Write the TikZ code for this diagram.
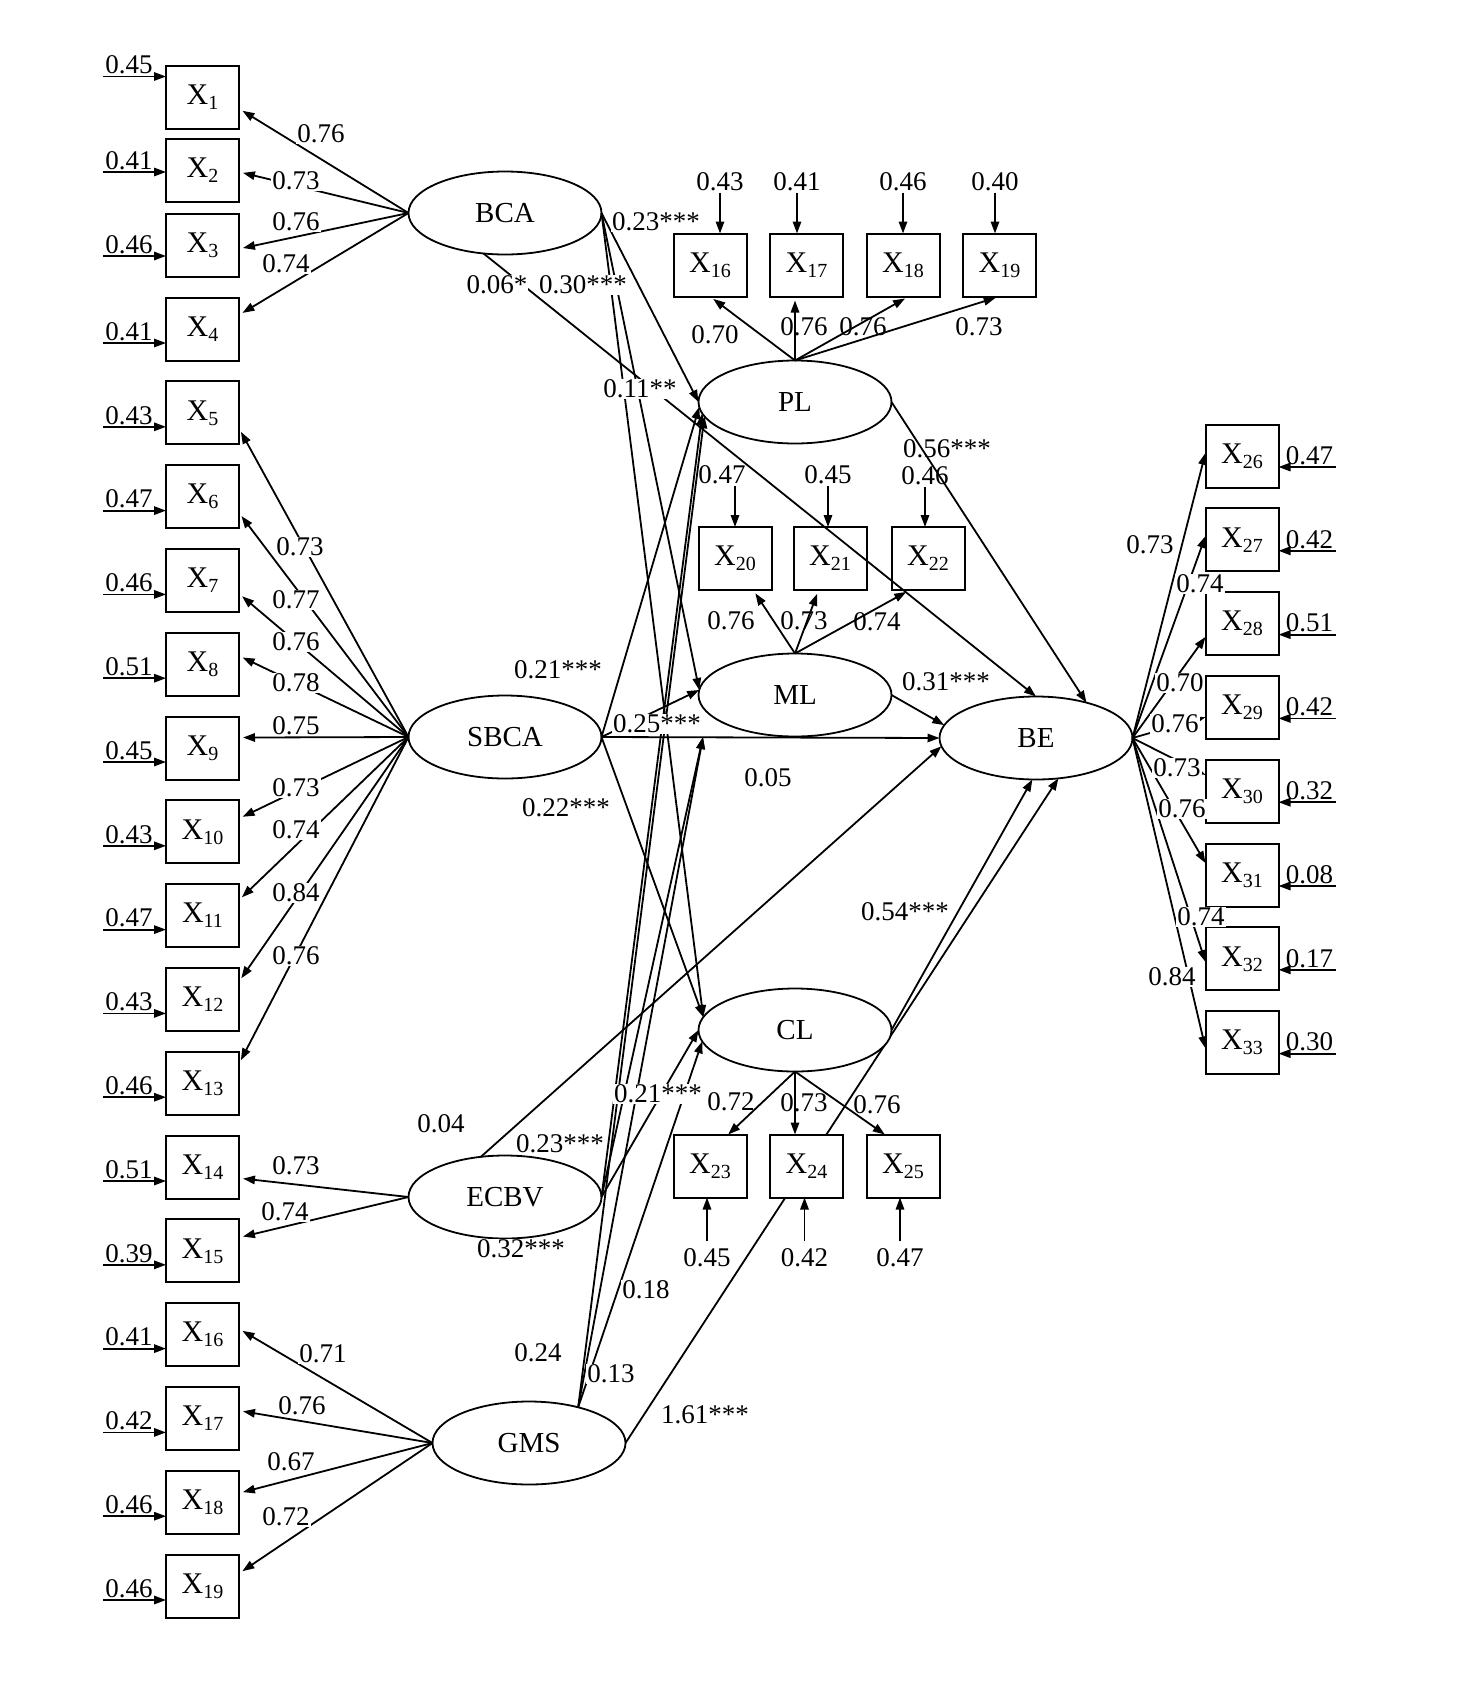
\documentclass[tikz,border=0pt]{standalone}
\usepackage{fontspec}
\setmainfont{Liberation Serif}
\usepackage{tikz}
\usetikzlibrary{positioning,arrows.meta,shapes.geometric,backgrounds}

\newcommand{\xs}[1]{X\raisebox{-2.5pt}{\fontsize{10}{10}\selectfont #1}}

\begin{document}
\begin{tikzpicture}[x=0.5pt, y=-0.5pt,
  obs/.style={draw, line width=1pt, fill=white, minimum width=36.5pt, minimum height=31.5pt, inner sep=0pt, outer sep=0pt, font=\fontsize{15}{15}\selectfont},
  lat/.style={draw, ellipse, line width=0.9pt, fill=white, minimum width=96.5pt, minimum height=41.5pt, inner sep=0pt, outer sep=0pt, font=\fontsize{14.5}{14.5}\selectfont},
  num/.style={inner sep=0.5pt, font=\fontsize{13.5}{14}\selectfont},
  lbl/.style={num, fill=white},
  res/.style={inner sep=1pt, font=\fontsize{13.5}{14}\selectfont},
  arr/.style={-{Triangle[length=6pt,width=4.2pt]}, line width=0.9pt},
  load/.style={arr, shorten >=2pt}
]
\useasboundingbox (0,0) rectangle (1474,1703);

% latent variables
\node[lat] (BCA) at (505,213) {BCA};
\node[lat, below=220.5pt of BCA] (SBCA) {SBCA};
\node[lat, below=188.5pt of SBCA] (ECBV) {ECBV};
\node[lat] (GMS) at (529,1443) {GMS};
\node[lat] (PL) at (795,402) {PL};
\node[lat, below=105pt of PL] (ML) {ML};
\node[lat, below=126pt of ML] (CL) {CL};
\node[lat] (BE) at (1036,738) {BE};
\coordinate (mlin) at (703,737);

% left indicators
\node[obs] (l1) at (202.5,97.5) {\xs{1}};
\node[obs, below=4.75pt of l1] (l2) {\xs{2}};
\node[obs, below=6pt of l2] (l3) {\xs{3}};
\node[obs, below=10.5pt of l3] (l4) {\xs{4}};
\node[obs, below=10.4pt of l4] (l5) {\xs{5}};
\node[obs, below=10.4pt of l5] (l6) {\xs{6}};
\node[obs, below=10.4pt of l6] (l7) {\xs{7}};
\node[obs, below=10.4pt of l7] (l8) {\xs{8}};
\node[obs, below=10.4pt of l8] (l9) {\xs{9}};
\node[obs, below=10.4pt of l9] (l10) {\xs{10}};
\node[obs, below=10.4pt of l10] (l11) {\xs{11}};
\node[obs, below=10.4pt of l11] (l12) {\xs{12}};
\node[obs, below=10.4pt of l12] (l13) {\xs{13}};
\node[obs, below=10.4pt of l13] (l14) {\xs{14}};
\node[obs, below=10.4pt of l14] (l15) {\xs{15}};
\node[obs, below=10.4pt of l15] (l16) {\xs{16}};
\node[obs, below=10.4pt of l16] (l17) {\xs{17}};
\node[obs, below=10.4pt of l17] (l18) {\xs{18}};
\node[obs, below=10.4pt of l18] (l19) {\xs{19}};

% mediator indicators
\node[obs] (p16) at (710,265) {\xs{16}};
\node[obs, right=11.75pt of p16] (p17) {\xs{17}};
\node[obs, right=11.75pt of p17] (p18) {\xs{18}};
\node[obs, right=11.75pt of p18] (p19) {\xs{19}};
\node[obs] (m20) at (735,558.5) {\xs{20}};
\node[obs, right=11pt of m20] (m21) {\xs{21}};
\node[obs, right=12.5pt of m21] (m22) {\xs{22}};
\node[obs] (c23) at (710,1166) {\xs{23}};
\node[obs, right=11.75pt of c23] (c24) {\xs{24}};
\node[obs, right=11.75pt of c24] (c25) {\xs{25}};

% BE indicators
\node[obs] (b26) at (1242,456) {\xs{26}};
\node[obs, below=10.4pt of b26] (b27) {\xs{27}};
\node[obs, below=10.4pt of b27] (b28) {\xs{28}};
\node[obs, below=10.4pt of b28] (b29) {\xs{29}};
\node[obs, below=10.4pt of b29] (b30) {\xs{30}};
\node[obs, below=10.4pt of b30] (b31) {\xs{31}};
\node[obs, below=10.4pt of b31] (b32) {\xs{32}};
\node[obs, below=10.4pt of b32] (b33) {\xs{33}};

% hidden behind X24
\begin{scope}[on background layer]
\draw[arr] (GMS.east) -- (BE.-61);
\end{scope}

% structural paths
\draw[arr] (BCA.east) -- (PL.west);
\draw[arr] (BCA.east) -- (ML.177);
\draw[arr] (BCA.east) -- (CL.172);
\draw[arr] (BCA.242) -- (BE.north);
\draw[arr] (SBCA.east) -- (PL.183);
\draw[arr] (SBCA.east) -- (ML.177);
\draw[arr] (SBCA.east) -- (BE.west);
\draw[arr] (SBCA.east) -- (CL.172);
\draw[arr] (ECBV.east) -- (PL.187);
\draw[arr] (ECBV.east) -- (mlin);
\draw[arr] (ECBV.east) -- (CL.west);
\draw[arr] (ECBV.121) -- (BE.185);
\draw[arr] (GMS.36) -- (PL.189);
\draw[arr] (GMS.36) -- (mlin);
\draw[arr] (GMS.36) -- (CL.187);
\draw[arr] (PL.east) -- (BE.35);
\draw[arr] (ML.east) -- (BE.172);
\draw[arr] (CL.east) -- (BE.-95);

% loadings
\draw[load] (BCA.west) -- (l1.-17);
\draw[load] (BCA.west) -- (l2.-3);
\draw[load] (BCA.west) -- (l3.-6);
\draw[load] (BCA.west) -- (l4.21);
\draw[load] (SBCA.west) -- (l5.-23);
\draw[load] (SBCA.west) -- (l6.-24);
\draw[load] (SBCA.west) -- (l7.-20);
\draw[load] (SBCA.west) -- (l8.13);
\draw[load] (SBCA.west) -- (l9.16);
\draw[load] (SBCA.west) -- (l10.20);
\draw[load] (SBCA.west) -- (l11.23);
\draw[load] (SBCA.west) -- (l12.26);
\draw[load] (SBCA.west) -- (l13.28);
\draw[load] (ECBV.west) -- (l14.-17);
\draw[load] (ECBV.west) -- (l15.20);
\draw[load] (GMS.west) -- (l16.9);
\draw[load] (GMS.west) -- (l17.12);
\draw[load] (GMS.west) -- (l18.14);
\draw[load] (GMS.west) -- (l19.19);
\draw[load] (PL.north) -- (p16.south);
\draw[load] (PL.north) -- (PL.north |- p17.south);
\draw[load] (PL.north) -- (p18.-80);
\draw[load] (PL.north) -- (p19.south);
\draw[load] (ML.north) -- (m20.-60);
\draw[load] (ML.north) -- (m21.-110);
\draw[load] (ML.north) -- (m22.-120);
\draw[arr] (CL.south) -- (c23.60);
\draw[arr] (CL.south) -- (CL.south |- c24.north);
\draw[arr] (CL.south) -- (c25.120);
\draw[arr] (BE.east) -- (b26.175);
\draw[arr] (BE.east) -- (b27.174);
\draw[arr] (BE.east) -- (b28.200);
\draw[arr] (BE.east) -- (b29.195);
\draw[arr] (BE.east) -- (b30.156);
\draw[arr] (BE.east) -- (b31.162);
\draw[arr] (BE.east) -- (b32.185);
\draw[arr] (BE.east) -- (b33.189);

% error terms, left
\node[res, anchor=south west] (e1) at ([shift={(-63,-21)}]l1.west) {0.45};
\node[res, anchor=south west] (e2) at ([shift={(-63,2)}]l2.west) {0.41};
\node[res, anchor=south west] (e3) at ([shift={(-63,11)}]l3.west) {0.46};
\node[res, anchor=south west] (e4) at ([shift={(-63,14)}]l4.west) {0.41};
\node[res, anchor=south west] (e5) at ([shift={(-63,14)}]l5.west) {0.43};
\node[res, anchor=south west] (e6) at ([shift={(-63,14)}]l6.west) {0.47};
\node[res, anchor=south west] (e7) at ([shift={(-63,14)}]l7.west) {0.46};
\node[res, anchor=south west] (e8) at ([shift={(-63,14)}]l8.west) {0.51};
\node[res, anchor=south west] (e9) at ([shift={(-63,14)}]l9.west) {0.45};
\node[res, anchor=south west] (e10) at ([shift={(-63,14)}]l10.west) {0.43};
\node[res, anchor=south west] (e11) at ([shift={(-63,14)}]l11.west) {0.47};
\node[res, anchor=south west] (e12) at ([shift={(-63,14)}]l12.west) {0.43};
\node[res, anchor=south west] (e13) at ([shift={(-63,14)}]l13.west) {0.46};
\node[res, anchor=south west] (e14) at ([shift={(-63,14)}]l14.west) {0.51};
\node[res, anchor=south west] (e15) at ([shift={(-63,14)}]l15.west) {0.39};
\node[res, anchor=south west] (e16) at ([shift={(-63,14)}]l16.west) {0.41};
\node[res, anchor=south west] (e17) at ([shift={(-63,14)}]l17.west) {0.42};
\node[res, anchor=south west] (e18) at ([shift={(-63,14)}]l18.west) {0.46};
\node[res, anchor=south west] (e19) at ([shift={(-63,14)}]l19.west) {0.46};
\draw[arr] (e1.south west) -- (e1.south west -| l1.west);
\draw[arr] (e2.south west) -- (e2.south west -| l2.west);
\draw[arr] (e3.south west) -- (e3.south west -| l3.west);
\draw[arr] (e4.south west) -- (e4.south west -| l4.west);
\draw[arr] (e5.south west) -- (e5.south west -| l5.west);
\draw[arr] (e6.south west) -- (e6.south west -| l6.west);
\draw[arr] (e7.south west) -- (e7.south west -| l7.west);
\draw[arr] (e8.south west) -- (e8.south west -| l8.west);
\draw[arr] (e9.south west) -- (e9.south west -| l9.west);
\draw[arr] (e10.south west) -- (e10.south west -| l10.west);
\draw[arr] (e11.south west) -- (e11.south west -| l11.west);
\draw[arr] (e12.south west) -- (e12.south west -| l12.west);
\draw[arr] (e13.south west) -- (e13.south west -| l13.west);
\draw[arr] (e14.south west) -- (e14.south west -| l14.west);
\draw[arr] (e15.south west) -- (e15.south west -| l15.west);
\draw[arr] (e16.south west) -- (e16.south west -| l16.west);
\draw[arr] (e17.south west) -- (e17.south west -| l17.west);
\draw[arr] (e18.south west) -- (e18.south west -| l18.west);
\draw[arr] (e19.south west) -- (e19.south west -| l19.west);

% error terms, mediators
\node[num] (ep16) at ([shift={(10,-51.5)}]p16.north) {0.43};
\node[num] (ep17) at ([shift={(-9.5,-51.5)}]p17.north) {0.41};
\node[num] (ep18) at ([shift={(0,-51.5)}]p18.north) {0.46};
\node[num] (ep19) at ([shift={(-4.5,-51.5)}]p19.north) {0.40};
\draw[arr] (ep16.south) -- (ep16.south |- p16.north);
\draw[arr] (ep17.south) -- (ep17.south |- p17.north);
\draw[arr] (ep18.south) -- (ep18.south |- p18.north);
\draw[arr] (ep19.south) -- (ep19.south |- p19.north);
\node[num] (em20) at ([shift={(-13,-52)}]m20.north) {0.47};
\node[num] (em21) at ([shift={(-2,-52)}]m21.north) {0.45};
\node[num] (em22) at ([shift={(-3,-51)}]m22.north) {0.46};
\draw[arr] (m20.north |- em20.south) -- (m20.north);
\draw[arr] (em21.south) -- (em21.south |- m21.north);
\draw[arr] (em22.south) -- (em22.south |- m22.north);
\node[num] (ec23) at ([shift={(-3,60.5)}]c23.south) {0.45};
\node[num] (ec24) at ([shift={(-2,60.5)}]c24.south) {0.42};
\node[num] (ec25) at ([shift={(-3,60.5)}]c25.south) {0.47};
\draw[arr, shorten <=3pt] (ec23.north) -- (ec23.north |- c23.south);
\draw[arr, shorten <=3pt] (ec24.north) -- (ec24.north |- c24.south);
\draw[arr, shorten <=3pt] (ec25.north) -- (ec25.north |- c25.south);

% error terms, BE
\node[res, anchor=south east] (f26) at ([shift={(57,11)}]b26.east) {0.47};
\node[res, anchor=south east] (f27) at ([shift={(57,11)}]b27.east) {0.42};
\node[res, anchor=south east] (f28) at ([shift={(57,11)}]b28.east) {0.51};
\node[res, anchor=south east] (f29) at ([shift={(57,11)}]b29.east) {0.42};
\node[res, anchor=south east] (f30) at ([shift={(57,11)}]b30.east) {0.32};
\node[res, anchor=south east] (f31) at ([shift={(57,11)}]b31.east) {0.08};
\node[res, anchor=south east] (f32) at ([shift={(57,11)}]b32.east) {0.17};
\node[res, anchor=south east] (f33) at ([shift={(57,11)}]b33.east) {0.30};
\draw[arr] (f26.south east) -- (f26.south east -| b26.east);
\draw[arr] (f27.south east) -- (f27.south east -| b27.east);
\draw[arr] (f28.south east) -- (f28.south east -| b28.east);
\draw[arr] (f29.south east) -- (f29.south east -| b29.east);
\draw[arr] (f30.south east) -- (f30.south east -| b30.east);
\draw[arr] (f31.south east) -- (f31.south east -| b31.east);
\draw[arr] (f32.south east) -- (f32.south east -| b32.east);
\draw[arr] (f33.south east) -- (f33.south east -| b33.east);

% path coefficients
\node[lbl] (s1) at (656,222) {0.23***};
\node[lbl] (s2) at (497,285) {0.06*};
\node[lbl] (s3) at (583,285) {0.30***};
\node[lbl] (s4) at (640,389) {0.11**};
\node[lbl] (s5) at (558,670) {0.21***};
\node[lbl] (s6) at (657,724) {0.25***};
\node[lbl] (s7) at (768,778) {0.05};
\node[lbl] (s8) at (566,808) {0.22***};
\node[lbl] (s9) at (441,1124) {0.04};
\node[lbl] (s10) at (560,1144) {0.23***};
\node[lbl] (s11) at (521,1249) {0.32***};
\node[lbl] (s12) at (658,1094) {0.21***};
\node[lbl] (s13) at (646,1290) {0.18};
\node[lbl] (s14) at (538,1353) {0.24};
\node[lbl] (s15) at (611,1374) {0.13};
\node[lbl] (s16) at (705,1415) {1.61***};
\node[num] (s17) at (947,449) {0.56***};
\node[lbl] (s18) at (946,682) {0.31***};
\node[lbl] (s19) at (905,912) {0.54***};

% loading values
\node[lbl] (k1) at (321,134) {0.76};
\node[lbl] (k2) at (296,181) {0.73};
\node[lbl] (k3) at (296,222) {0.76};
\node[lbl] (k4) at (286,264) {0.74};
\node[lbl] (k5) at (300,547) {0.73};
\node[lbl] (k6) at (296,600) {0.77};
\node[lbl] (k7) at (296,642) {0.76};
\node[lbl] (k8) at (296,683) {0.78};
\node[lbl] (k9) at (296,726) {0.75};
\node[lbl] (k10) at (296,788) {0.73};
\node[lbl] (k11) at (296,830) {0.74};
\node[lbl] (k12) at (296,893) {0.84};
\node[lbl] (k13) at (296,956) {0.76};
\node[lbl] (k14) at (296,1166) {0.73};
\node[lbl] (k15) at (285,1212) {0.74};
\node[lbl] (k16) at (323,1354) {0.71};
\node[lbl] (k17) at (302,1406) {0.76};
\node[lbl] (k18) at (291,1462) {0.67};
\node[lbl] (k19) at (286,1517) {0.72};
\node[num] (k20) at (715,335) {0.70};
\node[num] (k21) at (804,327) {0.76};
\node[num] (k22) at (863,327) {0.76};
\node[num] (k23) at (979,327) {0.73};
\node[num] (k24) at (731,621) {0.76};
\node[num] (k25) at (804,621) {0.73};
\node[num] (k26) at (877,622) {0.74};
\node[num] (k27) at (731,1102) {0.72};
\node[num] (k28) at (804,1103) {0.73};
\node[num] (k29) at (877,1105) {0.76};
\node[lbl] (k30) at (1150,545) {0.73};
\node[lbl] (k31) at (1200,584) {0.74};
\node[lbl] (k32) at (1180,683) {0.70};
\node[lbl] (k33) at (1175,724) {0.76};
\node[lbl] (k34) at (1177,768) {0.73};
\node[lbl] (k35) at (1182,809) {0.76};
\node[lbl] (k36) at (1201,917) {0.74};
\node[lbl] (k37) at (1172,977) {0.84};
\end{tikzpicture}
\end{document}
